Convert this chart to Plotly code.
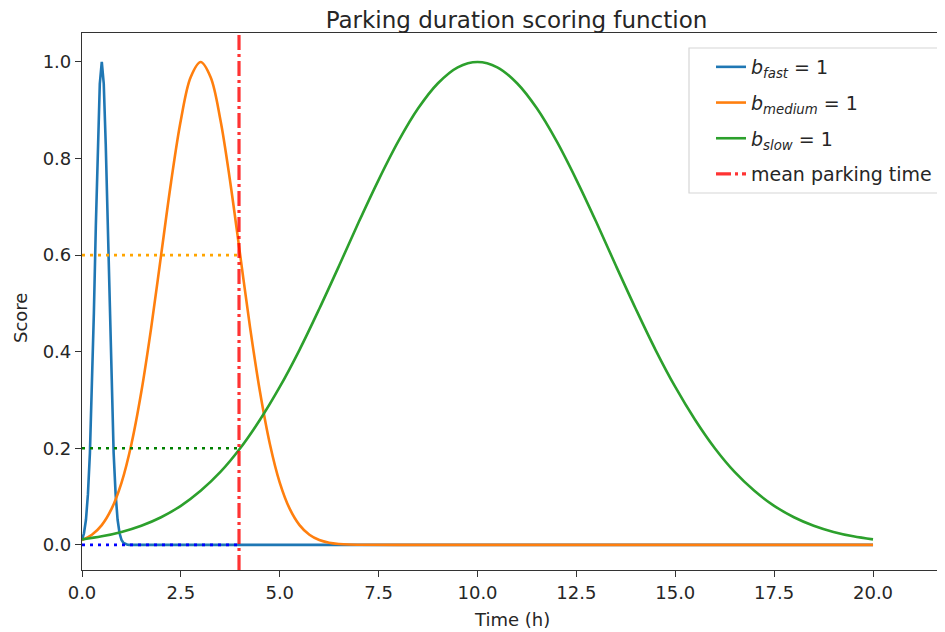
import plotly.graph_objects as go

# ---- data ----
fast_t = [0.0, 0.05, 0.1, 0.15, 0.2, 0.25, 0.3, 0.35, 0.4, 0.45, 0.5, 0.55, 0.6, 0.65, 0.7,
          0.75, 0.8, 0.85, 0.9, 0.95, 1.0, 1.05, 1.1, 1.15, 1.2, 20.0]
fast_s = [0.01, 0.024, 0.052, 0.105, 0.19, 0.316, 0.48, 0.661, 0.83, 0.955, 1.0, 0.955, 0.83,
          0.661, 0.48, 0.316, 0.19, 0.105, 0.052, 0.024, 0.01, 0.0038, 0.0013, 0.0004, 0.0, 0.0]

medium_t = [0.0, 0.25, 0.5, 0.75, 1.0, 1.25, 1.5, 1.75, 2.0, 2.25, 2.5, 2.75, 3.0,
            3.25, 3.5, 3.75, 4.0, 4.25, 4.5, 4.75, 5.0, 5.25, 5.5, 5.75, 6.0,
            6.25, 6.5, 6.75, 7.0, 8.0, 10.0, 12.5, 15.0, 17.5, 20.0]
medium_s = [0.010, 0.021, 0.041, 0.075, 0.129, 0.209, 0.317, 0.450, 0.600, 0.750, 0.880, 0.969, 1.0,
            0.969, 0.880, 0.750, 0.600, 0.450, 0.317, 0.209, 0.129, 0.075, 0.041, 0.021, 0.010,
            0.0045, 0.0019, 0.0007, 0.0003, 0.0, 0.0, 0.0, 0.0, 0.0, 0.0]

slow_t = [0, 0.5, 1, 1.5, 2, 2.5, 3, 3.5, 4, 4.5, 5, 5.5, 6, 6.5, 7, 7.5, 8, 8.5, 9, 9.5, 10,
          10.5, 11, 11.5, 12, 12.5, 13, 13.5, 14, 14.5, 15, 15.5, 16, 16.5, 17, 17.5, 18, 18.5,
          19, 19.5, 20]
slow_s = [0.0114, 0.0177, 0.0268, 0.0396, 0.0572, 0.0809, 0.112, 0.151, 0.200, 0.259, 0.327,
          0.404, 0.489, 0.578, 0.669, 0.756, 0.836, 0.904, 0.956, 0.989, 1.0,
          0.989, 0.956, 0.904, 0.836, 0.756, 0.669, 0.578, 0.489, 0.404, 0.327,
          0.259, 0.200, 0.151, 0.112, 0.0809, 0.0572, 0.0396, 0.0268, 0.0177, 0.0114]

mean_parking_time = 3.97
score_at_mean = {"fast": 0.0, "medium": 0.6, "slow": 0.2}

x_ticks = [0, 2.5, 5, 7.5, 10, 12.5, 15, 17.5, 20]
y_ticks = [0, 0.2, 0.4, 0.6, 0.8, 1.0]
x_range = [0, 21.82]
y_range = [-0.052, 1.06]

# ---- styling ----
FONT = "DejaVu Sans"
TXT = "#262626"

fig = go.Figure()

fig.add_trace(go.Scatter(x=fast_t, y=fast_s, mode="lines", legendgroup="a",
                         line=dict(color="#1f77b4", width=2.6),
                         name="<i>b</i><sub><i>fast</i></sub> = 1"))
fig.add_trace(go.Scatter(x=medium_t, y=medium_s, mode="lines", legendgroup="b",
                         line=dict(color="#ff7f0e", width=2.6, shape="spline"),
                         name="<i>b</i><sub><i>medium</i></sub> = 1"))
fig.add_trace(go.Scatter(x=slow_t, y=slow_s, mode="lines", legendgroup="c",
                         line=dict(color="#2ca02c", width=2.6, shape="spline"),
                         name="<i>b</i><sub><i>slow</i></sub> = 1"))

dot_colors = {"fast": "#0000ff", "medium": "#ffa500", "slow": "#008000"}
for key in ["medium", "slow", "fast"]:
    fig.add_trace(go.Scatter(x=[0, mean_parking_time],
                             y=[score_at_mean[key], score_at_mean[key]],
                             mode="lines", showlegend=False, hoverinfo="skip",
                             line=dict(color=dot_colors[key], width=2.6, dash="3px,5px")))

fig.add_trace(go.Scatter(x=[mean_parking_time, mean_parking_time], y=y_range,
                         mode="lines", name="mean parking time", legendgroup="d",
                         line=dict(color="rgba(255,0,0,0.8)", width=3.2,
                                   dash="15px,4px,3px,4px")))

# the page body adds an 8px offset; reference pixel coords are converted below
OFF = 8
W, H = 945 - OFF, 632 - OFF
PL, PR, PT, PB = 82, 945, 33, 570          # plot area in reference pixels
L, R, T, B = PL - OFF, 0, PT - OFF, H - (PB - OFF)


def px(xr):
    return (xr - PL) / (PR - PL)


def py(yr):
    return (PB - yr) / (PB - PT)


fig.update_layout(
    width=W, height=H,
    margin=dict(l=L, r=R, t=T, b=B),
    paper_bgcolor="white", plot_bgcolor="white",
    font=dict(family=FONT, size=18, color=TXT),
    title=dict(text="Parking duration scoring function",
               font=dict(family=FONT, size=23, color=TXT),
               x=px(516.5), xref="paper", xanchor="center",
               y=1 - (19.5 - OFF) / H, yref="container", yanchor="middle"),
    legend=dict(x=px(711), y=py(48),
                xanchor="left", yanchor="top", tracegroupgap=8,
                bgcolor="rgba(0,0,0,0)", borderwidth=0,
                font=dict(family=FONT, size=19, color=TXT)),
    showlegend=True,
)

# legend frame (matplotlib-style box)
fig.add_shape(type="rect", xref="paper", yref="paper",
              x0=px(689), x1=px(942), y0=py(193), y1=py(48),
              line=dict(color="#d6d6d6", width=1.2),
              fillcolor="rgba(255,255,255,0.85)", layer="above")

fig.update_xaxes(range=x_range, tickvals=x_ticks, tickformat=".1f",
                 showgrid=False, zeroline=False,
                 showline=True, linecolor="#333333", linewidth=1.2, mirror=True,
                 ticks="outside", ticklen=6, tickwidth=1.2, tickcolor="#333333",
                 tickfont=dict(family=FONT, size=18, color=TXT))
fig.update_yaxes(range=y_range, tickvals=y_ticks, tickformat=".1f",
                 showgrid=False, zeroline=False,
                 showline=True, linecolor="#333333", linewidth=1.2, mirror=False,
                 ticks="outside", ticklen=6, tickwidth=1.2, tickcolor="#333333",
                 tickfont=dict(family=FONT, size=18, color=TXT))

fig.add_annotation(text="Time (h)", xref="paper", yref="paper",
                   x=px(512), y=py(619),
                   showarrow=False, xanchor="center", yanchor="middle",
                   font=dict(family=FONT, size=18, color=TXT))
fig.add_annotation(text="Score", xref="paper", yref="paper",
                   x=px(20), y=py(318),
                   showarrow=False, textangle=-90, xanchor="center", yanchor="middle",
                   font=dict(family=FONT, size=18, color=TXT))

fig.write_html("out.html")
